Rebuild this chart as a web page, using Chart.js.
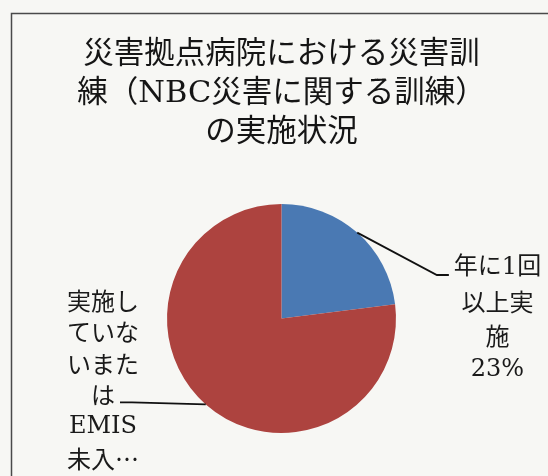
<!DOCTYPE html>
<html lang="ja">
<head>
<meta charset="utf-8">
<title>NBC災害訓練の実施状況</title>
<script src="https://cdn.jsdelivr.net/npm/chart.js@4/dist/chart.umd.min.js"></script>
<style>
  html, body { margin: 0; padding: 0; background: #f7f7f4; }
  #wrap { position: relative; width: 548px; height: 476px; }
</style>
</head>
<body>
<div id="wrap"><canvas id="drillChart"></canvas></div>
<script>
// 災害拠点病院の NBC 災害訓練（割合 %）
const titleLines = ['災害拠点病院における災害訓', '練（NBC災害に関する訓練）', 'の実施状況'];
const categories = ['年に1回以上実施', '実施していないまたはEMIS未入力'];
const shares = [23, 77];
const sliceColors = ['#4a79b3', '#ad433f'];
// ラベルの折り返し表示（2つ目は枠内で切れている）
const labelLines = [['年に1回', '以上実', '施'], ['実施し', 'ていな', 'いまた', 'は', 'EMIS', '未入…']];
const showPercent = [true, false];

const SERIF = "'DejaVu Serif', 'Noto Sans CJK JP', serif";
const GOTHIC = "'Noto Sans CJK JP', 'DejaVu Serif', sans-serif";

function fontFor(s, size) {
    return size + 'px ' + (/[A-Za-z0-9%]/.test(s) ? SERIF : GOTHIC);
}

// 背景と外枠
const paperFrame = {
    id: 'paperFrame',
    beforeDraw(chart) {
        const ctx = chart.ctx;
        ctx.save();
        ctx.fillStyle = '#f7f7f4';
        ctx.fillRect(0, 0, chart.width, chart.height);
        ctx.strokeStyle = '#4a4a4a';
        ctx.lineWidth = 1.5;
        ctx.strokeRect(11.5, 13.5, chart.width + 20, chart.height + 20);
        ctx.restore();
    }
};

// 引き出し線つきのラベル
const calloutLabels = {
    id: 'calloutLabels',
    afterDatasetsDraw(chart, args, opts) {
        const ctx = chart.ctx;
        const meta = chart.getDatasetMeta(0);
        const total = shares.reduce((a, b) => a + b, 0);
        meta.data.forEach((arc, i) => {
            const p = opts.place[i];
            const { x, y, startAngle, endAngle, outerRadius } =
                arc.getProps(['x', 'y', 'startAngle', 'endAngle', 'outerRadius'], true);
            const mid = (startAngle + endAngle) / 2;
            const ax = x + Math.cos(mid) * outerRadius;
            const ay = y + Math.sin(mid) * outerRadius;

            const lines = labelLines[i].slice();
            if (showPercent[i]) lines.push(Math.round(shares[i] / total * 100) + '%');

            const tx = x + p.dx;
            const ty = y + p.dy;
            ctx.save();
            ctx.textAlign = 'center';
            ctx.textBaseline = 'middle';
            ctx.fillStyle = '#1a1a1a';
            lines.forEach((s, k) => {
                ctx.font = fontFor(s, opts.size);
                ctx.fillText(s, tx, ty + k * p.lh);
            });

            ctx.font = fontFor(lines[p.hook], opts.size);
            const w = ctx.measureText(lines[p.hook]).width;
            const side = p.dx > 0 ? -1 : 1;
            const ex = tx + side * (w / 2 + 5);
            const ey = ty + p.hook * p.lh + 7;
            ctx.beginPath();
            ctx.moveTo(ax, ay);
            ctx.lineTo(ex + side * 12, ey);
            ctx.lineTo(ex, ey);
            ctx.strokeStyle = '#111';
            ctx.lineWidth = 1.8;
            ctx.stroke();
            ctx.restore();
        });
    }
};

new Chart(document.getElementById('drillChart'), {
    type: 'pie',
    data: {
        labels: categories,
        datasets: [{
            data: shares,
            backgroundColor: sliceColors,
            borderWidth: 0
        }]
    },
    options: {
        responsive: true,
        maintainAspectRatio: false,
        animation: false,
        events: [],
        layout: {
            padding: { left: 15, right: 0, top: 0, bottom: 43 }
        },
        plugins: {
            legend: { display: false },
            tooltip: { enabled: false },
            title: {
                display: true,
                text: titleLines,
                color: '#151515',
                font: { family: SERIF, size: 30.5, weight: 'normal', lineHeight: 39 / 30.5 },
                padding: { top: 36, bottom: 51 }
            },
            calloutLabels: {
                size: 24,
                place: [
                    { dx: 216, dy: -50.5, lh: 34, hook: 0 },
                    { dx: -178.5, dy: -18, lh: 31.6, hook: 3 }
                ]
            }
        }
    },
    plugins: [paperFrame, calloutLabels]
});
</script>
</body>
</html>
